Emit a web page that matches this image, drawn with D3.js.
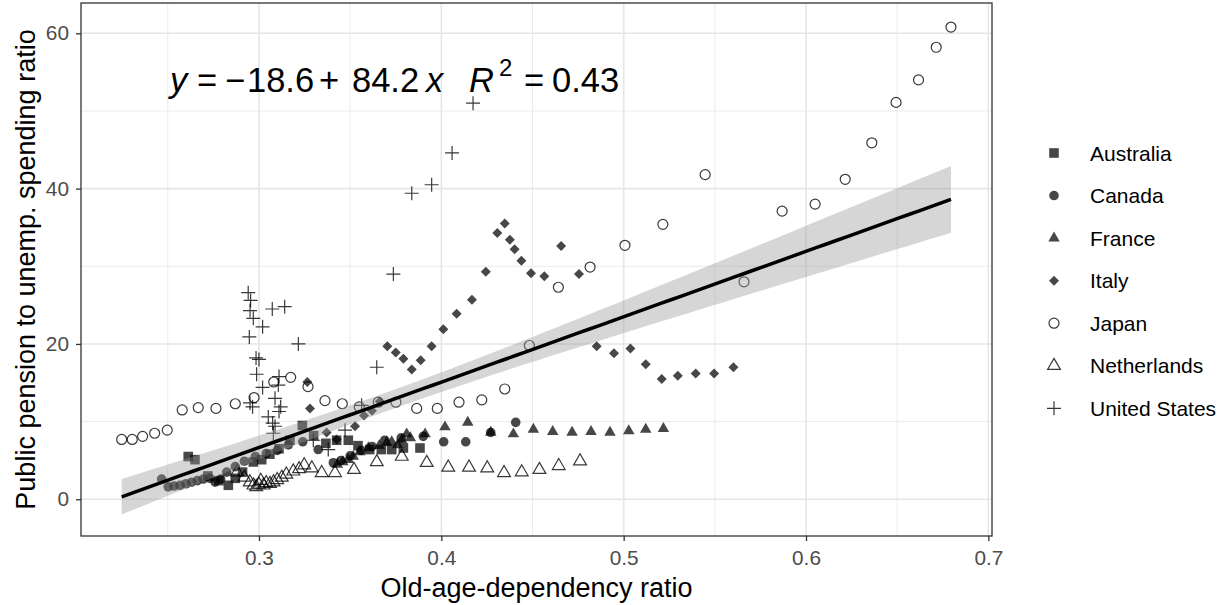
<!DOCTYPE html>
<html><head><meta charset="utf-8">
<script src="https://cdn.jsdelivr.net/npm/d3@7"></script>
<style>
body{margin:0;background:#fff}
svg{display:block}
text{font-family:"Liberation Sans",Arial,Helvetica,sans-serif}
</style>
</head><body>
<svg id="chart" width="1227" height="605"></svg>
<script>
// ---------------- data ----------------
const countries = ["Australia","Canada","France","Italy","Japan","Netherlands","United States"];

const australia = [[0.2612,5.5],[0.2649,5.1],[0.2720,3.0],[0.2780,2.4],[0.2832,1.8],[0.2870,2.7],[0.2910,3.5],[0.2969,4.8],[0.3015,5.1],[0.3060,5.8],[0.3110,6.5],[0.3170,7.6],[0.3238,9.5],[0.3300,8.2],[0.3367,7.2],[0.3426,7.6],[0.3490,7.6],[0.3543,6.9],[0.3607,6.4],[0.3671,6.4],[0.3728,6.4],[0.3792,6.6],[0.3883,6.6]];

const canada = [[0.2466,2.6],[0.2502,1.6],[0.2534,1.7],[0.2567,1.8],[0.2600,2.0],[0.2631,2.2],[0.2662,2.4],[0.2694,2.6],[0.2731,2.7],[0.2760,2.2],[0.2790,2.6],[0.2823,3.5],[0.2870,4.2],[0.2920,4.9],[0.2980,5.5],[0.3040,5.9],[0.3100,6.3],[0.3161,7.0],[0.3240,7.4],[0.3325,6.4],[0.3408,4.7],[0.3450,5.0],[0.3500,5.6],[0.3560,6.3],[0.3620,6.8],[0.3690,7.6],[0.3780,7.9],[0.3901,8.1],[0.4013,7.4],[0.4134,7.4],[0.4271,8.6],[0.4408,9.9]];

const france = [[0.3430,4.5],[0.3460,4.8],[0.3490,5.1],[0.3517,5.5],[0.3553,6.1],[0.3600,6.6],[0.3660,6.9],[0.3700,7.3],[0.3728,7.4],[0.3760,7.0],[0.3783,7.6],[0.3810,8.4],[0.3830,7.9],[0.3911,8.4],[0.4020,9.3],[0.4145,9.9],[0.4271,8.6],[0.4395,8.4],[0.4505,9.0],[0.4611,8.7],[0.4717,8.6],[0.4821,8.7],[0.4925,8.6],[0.5028,8.8],[0.5121,9.0],[0.5218,9.1]];

const italy = [[0.3265,15.1],[0.3280,11.7],[0.3371,8.6],[0.3426,7.7],[0.3527,9.4],[0.3576,10.8],[0.3620,11.4],[0.3662,12.6],[0.3704,19.7],[0.3750,18.9],[0.3792,18.1],[0.3838,16.7],[0.3887,17.9],[0.3947,19.7],[0.4011,21.9],[0.4084,23.9],[0.4168,25.7],[0.4244,29.3],[0.4307,34.3],[0.4348,35.5],[0.4376,33.4],[0.4402,32.2],[0.4439,30.7],[0.4492,29.1],[0.4565,28.7],[0.4657,32.6],[0.4755,29.0],[0.4852,19.7],[0.4947,18.8],[0.5037,19.4],[0.5121,17.4],[0.5209,15.5],[0.5297,15.9],[0.5395,16.2],[0.5496,16.2],[0.5602,17.0]];

const japan = [[0.2247,7.7],[0.2305,7.7],[0.2362,8.1],[0.2428,8.5],[0.2497,8.9],[0.2579,11.5],[0.2667,11.8],[0.2764,11.7],[0.2870,12.3],[0.2973,13.1],[0.3081,15.1],[0.3174,15.7],[0.3269,14.5],[0.3362,12.7],[0.3457,12.3],[0.3550,11.9],[0.3654,12.5],[0.3751,12.5],[0.3865,11.7],[0.3978,11.7],[0.4097,12.5],[0.4222,12.8],[0.4348,14.2],[0.4483,19.8],[0.4642,27.3],[0.4816,29.9],[0.5007,32.7],[0.5215,35.4],[0.5447,41.8],[0.5660,28.0],[0.5869,37.1],[0.6050,38.0],[0.6215,41.2],[0.6361,45.9],[0.6494,51.1],[0.6617,54.0],[0.6714,58.2],[0.6795,60.8]];

const netherlands = [[0.2880,3.5],[0.2920,2.8],[0.2950,2.2],[0.2970,1.8],[0.2985,1.6],[0.3000,1.9],[0.3010,2.4],[0.3025,1.8],[0.3040,2.1],[0.3060,2.0],[0.3080,2.2],[0.3100,2.5],[0.3125,2.8],[0.3150,3.2],[0.3188,3.6],[0.3220,3.9],[0.3248,4.4],[0.3290,4.0],[0.3344,3.4],[0.3417,3.4],[0.3521,3.8],[0.3646,4.8],[0.3783,5.5],[0.3920,4.7],[0.4038,4.1],[0.4152,4.1],[0.4252,4.0],[0.4344,3.4],[0.4441,3.5],[0.4538,3.8],[0.4644,4.3],[0.4761,4.9]];

const unitedStates = [[0.2941,26.6],[0.2954,25.6],[0.2951,24.3],[0.2969,23.3],[0.3020,22.2],[0.2947,20.9],[0.3073,24.5],[0.3141,24.8],[0.3216,20.0],[0.2984,18.2],[0.3000,18.0],[0.2987,16.1],[0.3020,14.4],[0.3110,15.8],[0.3106,14.7],[0.3088,13.0],[0.3119,11.9],[0.3110,11.3],[0.2951,12.4],[0.2965,11.9],[0.3051,10.6],[0.3075,9.8],[0.3088,9.4],[0.3079,8.5],[0.3298,7.6],[0.3380,6.4],[0.3472,8.9],[0.3563,12.1],[0.3646,17.0],[0.3737,29.0],[0.3838,39.4],[0.3947,40.5],[0.4059,44.6],[0.4174,51.0]];

const seriesData = [australia, canada, france, italy, japan, netherlands, unitedStates];
const shapes = ["square","circle","triangle","diamond","openCircle","openTriangle","plus"];

const xTicks = [0.3,0.4,0.5,0.6,0.7];
const xMinor = [0.25,0.35,0.45,0.55,0.65];
const yTicks = [0,20,40,60];
const yMinor = [10,30,50];
const fitIntercept = -18.6, fitSlope = 84.2, fitR2 = 0.43;
const xLabel = "Old-age-dependency ratio";
const yLabel = "Public pension to unemp. spending ratio";

// ---------------- layout ----------------
const P = {left:81, right:992, top:3, bottom:536};
const svg = d3.select("#chart");
const x = d3.scaleLinear().domain([0.2024, 0.7020]).range([P.left, P.right]);
const y = d3.scaleLinear().domain([-4.73, 63.9]).range([P.bottom, P.top]);

// grid
const grid = svg.append("g");
grid.selectAll(".xm").data(xMinor).join("line")
  .attr("x1",d=>x(d)).attr("x2",d=>x(d)).attr("y1",P.top).attr("y2",P.bottom)
  .attr("stroke","#ebebeb").attr("stroke-width",1);
grid.selectAll(".ym").data(yMinor).join("line")
  .attr("y1",d=>y(d)).attr("y2",d=>y(d)).attr("x1",P.left).attr("x2",P.right)
  .attr("stroke","#ebebeb").attr("stroke-width",1);
grid.selectAll(".xM").data(xTicks).join("line")
  .attr("x1",d=>x(d)).attr("x2",d=>x(d)).attr("y1",P.top).attr("y2",P.bottom)
  .attr("stroke","#e6e6e6").attr("stroke-width",1.6);
grid.selectAll(".yM").data(yTicks).join("line")
  .attr("y1",d=>y(d)).attr("y2",d=>y(d)).attr("x1",P.left).attr("x2",P.right)
  .attr("stroke","#e6e6e6").attr("stroke-width",1.6);

// shapes
function shapePath(kind, cx, cy){
  const p = d3.path();
  if(kind==="square"){ const h=4.8; p.rect(cx-h,cy-h,2*h,2*h); }
  else if(kind==="circle"||kind==="openCircle"){ const r = kind==="circle"?4.8:5.0; p.moveTo(cx+r,cy); p.arc(cx,cy,r,0,2*Math.PI); }
  else if(kind==="triangle"||kind==="openTriangle"){
    const s = kind==="triangle"?11.5:12.8; const h = s*Math.sqrt(3)/2;
    p.moveTo(cx,cy-h*2/3); p.lineTo(cx+s/2,cy+h/3); p.lineTo(cx-s/2,cy+h/3); p.closePath(); }
  else if(kind==="diamond"){ const d=5.0; p.moveTo(cx,cy-d); p.lineTo(cx+d,cy); p.lineTo(cx,cy+d); p.lineTo(cx-d,cy); p.closePath(); }
  else if(kind==="plus"){ const d=7.0; p.moveTo(cx-d,cy); p.lineTo(cx+d,cy); p.moveTo(cx,cy-d); p.lineTo(cx,cy+d); }
  return p.toString();
}
function styleShape(sel, kind){
  const open = kind.startsWith("open")||kind==="plus";
  sel.attr("fill", open?"none":"#000").attr("fill-opacity", open?null:0.72)
     .attr("stroke", open?"#000":"none").attr("stroke-opacity", open?0.78:null)
     .attr("stroke-width", open?1.2:null);
}

// points
const pts = svg.append("g");
seriesData.forEach((data,i)=>{
  const kind = shapes[i];
  const s = pts.append("g").selectAll("path").data(data).join("path")
    .attr("d", d=>shapePath(kind, x(d[0]), y(d[1])));
  styleShape(s, kind);
});

// regression ribbon and line (CI from the plotted data)
const all = seriesData.flat();
const n = all.length;
const xbar = d3.mean(all, d=>d[0]);
const sxx = d3.sum(all, d=>(d[0]-xbar)**2);
const rss = d3.sum(all, d=>(d[1]-(fitIntercept+fitSlope*d[0]))**2);
const sres = Math.sqrt(rss/(n-2));
const tq = 1.972;
const xmin = d3.min(all,d=>d[0]), xmax = d3.max(all,d=>d[0]);
const grid80 = d3.range(81).map(i=>xmin+(xmax-xmin)*i/80);
const band = grid80.map(xx=>{
  const fit = fitIntercept+fitSlope*xx;
  const se = sres*Math.sqrt(1/n+(xx-xbar)**2/sxx);
  return {x:xx, fit, lo:fit-tq*se, hi:fit+tq*se};
});
svg.append("path").datum(band)
  .attr("d", d3.area().x(d=>x(d.x)).y0(d=>y(d.lo)).y1(d=>y(d.hi)))
  .attr("fill","#999999").attr("fill-opacity",0.4);
svg.append("path").datum(band)
  .attr("d", d3.line().x(d=>x(d.x)).y(d=>y(d.fit)))
  .attr("fill","none").attr("stroke","#000").attr("stroke-width",3.5);

// panel border
svg.append("rect").attr("x",P.left).attr("y",P.top).attr("width",P.right-P.left).attr("height",P.bottom-P.top)
  .attr("fill","none").attr("stroke","#333333").attr("stroke-width",1.3);

// axes
const xAxis = svg.append("g").attr("transform",`translate(0,${P.bottom})`)
  .call(d3.axisBottom(x).tickValues(xTicks).tickSize(5).tickPadding(9).tickFormat(d3.format(".1f")));
const yAxis = svg.append("g").attr("transform",`translate(${P.left},0)`)
  .call(d3.axisLeft(y).tickValues(yTicks).tickSize(5).tickPadding(7).tickFormat(d3.format("d")));
[xAxis,yAxis].forEach(a=>{
  a.select(".domain").remove();
  a.selectAll(".tick line").attr("stroke","#333333").attr("stroke-width",1.3);
  a.selectAll(".tick text").attr("fill","#4d4d4d").style("font-size","20.8px").style("font-family","'Liberation Sans',Arial,sans-serif");
});

// axis titles
svg.append("text").attr("x",(P.left+P.right)/2).attr("y",597).attr("text-anchor","middle")
  .style("font-size","27px").attr("fill","#000").text(xLabel);
svg.append("text").attr("transform",`translate(35,${(P.top+P.bottom)/2}) rotate(-90)`).attr("text-anchor","middle")
  .style("font-size","27px").attr("fill","#000").text(yLabel);

// equation label
const eqY = 92;
const eq = svg.append("g").style("font-size","34.5px").attr("fill","#000");
const fmt1 = d3.format(".1f");
const tokens = [
  {t:"y", x:170, it:true},
  {t:"=", x:197},
  {t:"\u2212", x:225},
  {t:fmt1(Math.abs(fitIntercept)), x:247},
  {t:"+", x:319},
  {t:fmt1(fitSlope), x:352},
  {t:"x", x:426, it:true},
  {t:"R", x:469, it:true},
  {t:"=", x:524},
  {t:d3.format(".2f")(fitR2), x:552}
];
tokens.forEach(k=>{
  eq.append("text").attr("x",k.x).attr("y",eqY).style("font-style",k.it?"italic":"normal").text(k.t);
});
eq.append("text").attr("x",499).attr("y",76).style("font-size","24px").text("2");

// legend
const leg = svg.append("g");
countries.forEach((c,i)=>{
  const cy = 153 + i*42.55;
  const s = leg.append("path").attr("d", shapePath(shapes[i], 1054, cy));
  styleShape(s, shapes[i]);
  leg.append("text").attr("x",1090).attr("y",cy+7.5).style("font-size","21px").attr("fill","#000").text(c);
});
</script>
</body></html>
